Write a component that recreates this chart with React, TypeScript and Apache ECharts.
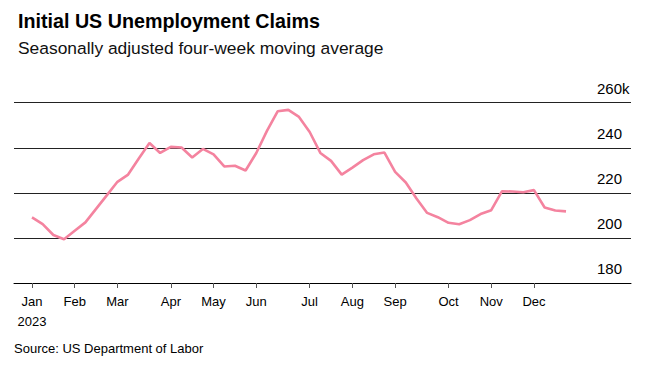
import React, { useEffect, useRef } from "react";
import * as echarts from "echarts";

const weekEnding: string[] = [
  "2023-01-06", "2023-01-13", "2023-01-20", "2023-01-27",
  "2023-02-03", "2023-02-10", "2023-02-17", "2023-02-24",
  "2023-03-03", "2023-03-10", "2023-03-17", "2023-03-24", "2023-03-31",
  "2023-04-07", "2023-04-14", "2023-04-21", "2023-04-28",
  "2023-05-05", "2023-05-12", "2023-05-19", "2023-05-26",
  "2023-06-02", "2023-06-09", "2023-06-16", "2023-06-23", "2023-06-30",
  "2023-07-07", "2023-07-14", "2023-07-21", "2023-07-28",
  "2023-08-04", "2023-08-11", "2023-08-18", "2023-08-25",
  "2023-09-01", "2023-09-08", "2023-09-15", "2023-09-22", "2023-09-29",
  "2023-10-06", "2023-10-13", "2023-10-20", "2023-10-27",
  "2023-11-03", "2023-11-10", "2023-11-17", "2023-11-24",
  "2023-12-01", "2023-12-08", "2023-12-15", "2023-12-22",
];

// Four-week moving average, thousands
const claims: number[] = [
  209.1, 206.1, 201.3, 199.4,
  203.2, 206.9, 212.9, 218.9,
  224.9, 228.1, 235.2, 242.1, 237.7,
  240.4, 240.1, 235.7, 239.5,
  237.1, 231.7, 232.0, 229.9,
  237.7, 247.5, 256.2, 256.8, 253.7,
  247.0, 237.7, 234.2, 228.1,
  231.2, 234.5, 237.1, 237.9,
  229.3, 224.6, 217.5, 211.1, 209.2,
  206.7, 206.1, 207.9, 210.6,
  212.3, 220.7, 220.6, 220.3,
  221.2, 213.5, 212.2, 211.8,
];

const monthNames: string[] = ["Jan", "Feb", "Mar", "Apr", "May", "Jun", "Jul", "Aug", "Sep", "Oct", "Nov", "Dec"];
const yTicks: number[] = [180, 200, 220, 240, 260];

const TITLE = "Initial US Unemployment Claims";
const SUBTITLE = "Seasonally adjusted four-week moving average";
const SOURCE = "Source: US Department of Labor";

export default function App() {
  const ref = useRef<HTMLDivElement>(null);

  useEffect(() => {
    if (!ref.current) return;
    const chart = echarts.init(ref.current, undefined, { renderer: "svg" });

    // first week of each month
    const monthStarts: number[] = [];
    const monthOfIdx: Record<number, number> = {};
    weekEnding.forEach((d, i) => {
      const m = parseInt(d.slice(5, 7), 10) - 1;
      if (i === 0 || parseInt(weekEnding[i - 1].slice(5, 7), 10) - 1 !== m) {
        monthStarts.push(i);
        monthOfIdx[i] = m;
      }
    });
    const year = weekEnding[0].slice(0, 4);

    const font = "'Liberation Sans', Arial, sans-serif";
    const spacing = 10.68;
    const gridLeft = 14;
    const gridRight = 35;
    const plotWidth = 666 - gridLeft - gridRight;
    const xMin = -(32 - gridLeft) / spacing;
    const xMax = xMin + plotWidth / spacing;

    chart.setOption({
      animation: false,
      backgroundColor: "#ffffff",
      textStyle: { fontFamily: font },
      title: [
        {
          text: TITLE,
          left: 13,
          top: 6,
          textStyle: { fontSize: 19.7, fontWeight: "bold", color: "#000", fontFamily: font },
        },
        {
          text: SUBTITLE,
          left: 13,
          top: 34,
          textStyle: { fontSize: 17.4, fontWeight: "normal", color: "#111", fontFamily: font },
        },
      ],
      graphic: [
        {
          type: "text",
          left: 14,
          top: 342,
          style: { text: SOURCE, fontSize: 13, fill: "#000", fontFamily: font },
        },
      ],
      grid: { left: gridLeft, right: gridRight, top: 102.7, bottom: 82, containLabel: false },
      xAxis: {
        type: "value",
        min: xMin,
        max: xMax,
        axisLine: { show: true, onZero: false, lineStyle: { color: "#000", width: 1 } },
        axisTick: {
          show: true,
          customValues: monthStarts,
          length: 5,
          lineStyle: { color: "#555", width: 1 },
        },
        axisLabel: {
          show: true,
          customValues: monthStarts,
          formatter: (v: number) => {
            const i = Math.round(v);
            const name = monthNames[monthOfIdx[i]] ?? "";
            return i === 0 ? name + "\n" + year : name;
          },
          fontSize: 13,
          color: "#000",
          margin: 8,
          lineHeight: 20,
          fontFamily: font,
        },
        splitLine: { show: false },
      },
      yAxis: {
        type: "value",
        position: "right",
        min: 180,
        max: 260,
        interval: 20,
        axisLine: { show: false },
        axisTick: { show: false },
        axisLabel: {
          inside: true,
          margin: 34,
          align: "left",
          verticalAlign: "bottom",
          padding: [0, 0, 7, 0],
          fontSize: 15,
          color: "#000",
          fontFamily: font,
          customValues: yTicks,
          formatter: (v: number) => (v === 260 ? v + "k" : String(v)),
        },
        splitLine: { show: true, lineStyle: { color: "#222", width: 1 } },
      },
      series: [
        {
          type: "line",
          data: claims.map((v, i) => [i, v]),
          showSymbol: false,
          symbol: "none",
          lineStyle: { color: "#f4839f", width: 2.6 },
          itemStyle: { color: "#f4839f" },
        },
      ],
    });

    return () => chart.dispose();
  }, []);

  return (
    <div
      ref={ref}
      style={{ position: "fixed", left: 0, top: 0, width: 666, height: 365 }}
    />
  );
}
